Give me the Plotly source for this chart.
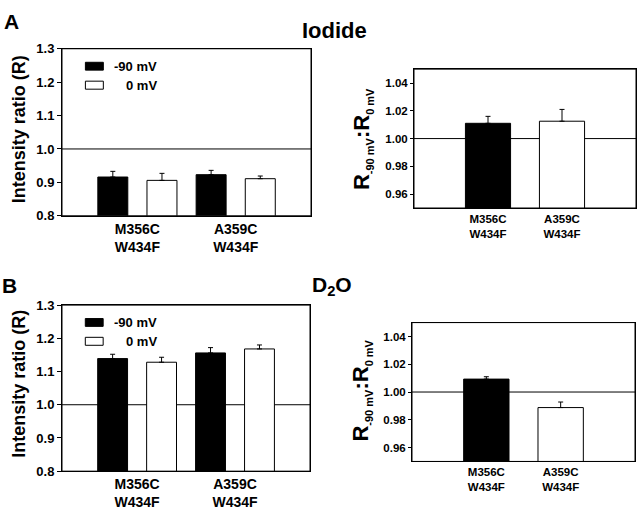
import plotly.graph_objects as go

W, H = 640, 518

categories = ["M356C<br>W434F", "A359C<br>W434F"]
series_names = ["-90 mV", "0 mV"]

iodide_neg90 = [0.916, 0.923]
iodide_neg90_err = [0.017, 0.013]
iodide_0 = [0.906, 0.911]
iodide_0_err = [0.021, 0.008]
iodide_ratio = [1.011, 1.0125]
iodide_ratio_err = [0.005, 0.0085]

d2o_neg90 = [1.139, 1.156]
d2o_neg90_err = [0.013, 0.016]
d2o_0 = [1.128, 1.168]
d2o_0_err = [0.015, 0.012]
d2o_ratio = [1.0093, 0.9888]
d2o_ratio_err = [0.0017, 0.004]

left_ticks = [0.8, 0.9, 1.0, 1.1, 1.2, 1.3]
right_ticks = [0.96, 0.98, 1.00, 1.02, 1.04]

xpos = [1, 2]
FONT = "Liberation Sans, Arial, sans-serif"


def px_x(p):
    return p / W


def px_y(p):
    return 1 - p / H


fig = go.Figure()


def err(arr):
    return dict(type="data", symmetric=False, array=arr, arrayminus=[0] * len(arr),
                color="black", thickness=1, width=2.5)


def add_left(xa, ya, neg, negerr, zero, zeroerr):
    fig.add_trace(go.Bar(x=xpos, y=neg, error_y=err(negerr), name=series_names[0],
                         marker=dict(color="black", line=dict(color="black", width=1)),
                         xaxis=xa, yaxis=ya, showlegend=False))
    fig.add_trace(go.Bar(x=xpos, y=zero, error_y=err(zeroerr), name=series_names[1],
                         marker=dict(color="white", line=dict(color="black", width=1)),
                         xaxis=xa, yaxis=ya, showlegend=False))


def add_right(xa, ya, vals, errs):
    fig.add_trace(go.Bar(x=xpos, y=vals, error_y=err(errs),
                         marker=dict(color=["black", "white"], line=dict(color="black", width=1)),
                         xaxis=xa, yaxis=ya, showlegend=False))


add_left("x", "y", iodide_neg90, iodide_neg90_err, iodide_0, iodide_0_err)
add_right("x2", "y2", iodide_ratio, iodide_ratio_err)
add_left("x3", "y3", d2o_neg90, d2o_neg90_err, d2o_0, d2o_0_err)
add_right("x4", "y4", d2o_ratio, d2o_ratio_err)

bold = dict(family=FONT, color="black", weight="bold")


def xaxis(dom, rng, size, anchor):
    return dict(domain=dom, range=rng, anchor=anchor, tickvals=xpos, ticktext=categories,
                showline=True, mirror=True, linecolor="black", linewidth=1,
                ticks="", showgrid=False, zeroline=False, fixedrange=True,
                tickfont=dict(size=size, **bold))


def yaxis(dom, rng, tv, fmt, size, anchor, tl):
    return dict(domain=dom, range=rng, anchor=anchor, tickvals=tv, tickformat=fmt,
                showline=True, mirror=True, linecolor="black", linewidth=1,
                ticks="outside", ticklen=tl, tickwidth=1, tickcolor="black",
                showgrid=False, zeroline=False, fixedrange=True,
                tickfont=dict(size=size, **bold))


fig.update_layout(
    width=W, height=H,
    margin=dict(l=0, r=0, t=0, b=0),
    paper_bgcolor="white", plot_bgcolor="white",
    barmode="group", bargap=0, bargroupgap=0.39,
    xaxis=xaxis([px_x(62), px_x(311)], [0.233, 2.766], 14, "y"),
    yaxis=yaxis([px_y(215), px_y(43)], [0.8, 1.3], left_ticks, ".1f", 13, "x", 4),
    xaxis2=xaxis([px_x(414), px_x(636)], [0, 3], 11.5, "y2"),
    yaxis2=yaxis([px_y(207), px_y(64)], [0.95, 1.05], right_ticks, ".2f", 11.5, "x2", 3),
    xaxis3=xaxis([px_x(62), px_x(310)], [0.233, 2.766], 14, "y3"),
    yaxis3=yaxis([px_y(478), px_y(307)], [0.8, 1.3], left_ticks, ".1f", 13, "x3", 4),
    xaxis4=xaxis([px_x(412), px_x(635)], [0, 3], 11.5, "y4"),
    yaxis4=yaxis([px_y(468), px_y(325)], [0.95, 1.05], right_ticks, ".2f", 11.5, "x4", 3),
)

panels = [("x", "y"), ("x2", "y2"), ("x3", "y3"), ("x4", "y4")]

# reference line at 1.0 in every panel (behind the bars)
for xa, ya in panels:
    fig.add_shape(type="line", xref=f"{xa} domain", yref=ya, x0=0, x1=1, y0=1.0, y1=1.0,
                  line=dict(color="black", width=1), layer="below")
    # frame around the plotting area
    fig.add_shape(type="rect", xref=f"{xa} domain", yref=f"{ya} domain", x0=0, x1=1, y0=0, y1=1,
                  line=dict(color="black", width=1), fillcolor="rgba(0,0,0,0)", layer="above")

# legends inside left panels
for xa, ya in [("x", "y"), ("x3", "y3")]:
    fig.add_shape(type="rect", xref=f"{xa} domain", yref=f"{ya} domain",
                  x0=0.094, x1=0.166, y0=0.872, y1=0.919,
                  fillcolor="black", line=dict(color="black", width=1))
    fig.add_shape(type="rect", xref=f"{xa} domain", yref=f"{ya} domain",
                  x0=0.094, x1=0.166, y0=0.758, y1=0.806,
                  fillcolor="white", line=dict(color="black", width=1))
    fig.add_annotation(xref=f"{xa} domain", yref=f"{ya} domain", x=0.2, y=0.895,
                       text=series_names[0], showarrow=False, xanchor="left", yanchor="middle",
                       font=dict(size=13, **bold))
    fig.add_annotation(xref=f"{xa} domain", yref=f"{ya} domain", x=0.25, y=0.782,
                       text=series_names[1], showarrow=False, xanchor="left", yanchor="middle",
                       font=dict(size=13, **bold))

# y-axis titles
for cy in [126, 388]:
    fig.add_annotation(xref="paper", yref="paper", x=px_x(19), y=px_y(cy),
                       text="Intensity ratio (R)", textangle=-90, showarrow=False,
                       xanchor="center", yanchor="middle", font=dict(size=18, **bold))
ratio_title = ("R<sub><span style='font-size:11px'>-90 mV</span></sub>:"
               "R<sub><span style='font-size:11px'>0 mV</span></sub>")
for cy in [136, 395]:
    fig.add_annotation(xref="paper", yref="paper", x=px_x(362), y=px_y(cy),
                       text=ratio_title, textangle=-90, showarrow=False,
                       xanchor="center", yanchor="middle", font=dict(size=22, **bold))

# panel letters and titles
fig.add_annotation(xref="paper", yref="paper", x=px_x(11), y=px_y(15), text="A",
                   showarrow=False, xanchor="center", yanchor="middle", font=dict(size=21, **bold))
fig.add_annotation(xref="paper", yref="paper", x=px_x(9), y=px_y(287), text="B",
                   showarrow=False, xanchor="center", yanchor="middle", font=dict(size=21, **bold))
fig.add_annotation(xref="paper", yref="paper", x=px_x(334), y=px_y(24), text="Iodide",
                   showarrow=False, xanchor="center", yanchor="middle", font=dict(size=22, **bold))
fig.add_annotation(xref="paper", yref="paper", x=px_x(332), y=px_y(287), text="D<sub>2</sub>O",
                   showarrow=False, xanchor="center", yanchor="middle", font=dict(size=21, **bold))

fig.write_html("out.html", config={"displayModeBar": False},
               post_script="document.body.style.margin='0';document.body.style.overflow='hidden';")
